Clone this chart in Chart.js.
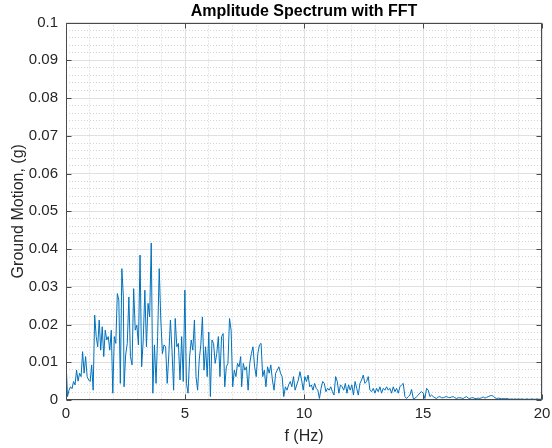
<!DOCTYPE html>
<html>
<head>
<meta charset="utf-8">
<script src="https://cdn.jsdelivr.net/npm/chart.js@4/dist/chart.umd.min.js"></script>
<style>
    html, body { margin:0; padding:0; background:#fff; }
    canvas { display:block; }
</style>
</head>
<body>
<canvas id="chartFFT" width="552" height="448"></canvas>
<script>
/* ==========================================================
   Amplitude spectrum (FFT)
========================================================== */

// amplitude readings (g), one array per frequency band
const amp0 = [0.0106,0.0009,0.0026,0.0035,0.0030,0.0049,0.0040,0.0079,0.0050,0.0071,0.0062,0.0128,0.0071,0.0115,0.0062,0.0053,0.0049,0.0093,0.0026,0.0225,0.0168,0.0141,0.0212,0.0132,0.0194,0.0115,0.0185,0.0159,0.0168,0.0132,0.0185,0.0018,0.0168,0.0150,0.0282,0.0265,0.0044,0.0348,0.0273];
const amp1 = [0.0035,0.0120,0.0150,0.0273,0.0115,0.0093,0.0295,0.0185,0.0198,0.0146,0.0384,0.0088,0.0159,0.0291,0.0141,0.0256,0.0220,0.0416,0.0018,0.0146,0.0044,0.0168,0.0348,0.0212,0.0123,0.0146,0.0141,0.0044,0.0120,0.0212,0.0132,0.0026,0.0216,0.0141,0.0150,0.0053];
const amp2 = [0.0168,0.0049,0.0291,0.0044,0.0018,0.0115,0.0159,0.0132,0.0212,0.0062,0.0026,0.0106,0.0146,0.0220,0.0079,0.0141,0.0062,0.0180,0.0009,0.0159,0.0150,0.0097,0.0123,0.0168,0.0062,0.0168,0.0176,0.0035,0.0088,0.0097,0.0216,0.0185,0.0035,0.0079,0.0062,0.0097,0.0088,0.0115];
const amp3 = [0.0035,0.0097,0.0079,0.0088,0.0026,0.0097,0.0123,0.0141,0.0088,0.0062,0.0123,0.0146,0.0150,0.0062,0.0079,0.0035,0.0088,0.0071,0.0093,0.0053,0.0026,0.0071,0.0079,0.0088,0.0071,0.0062,0.0009,0.0035,0.0026,0.0040,0.0049,0.0035,0.0062,0.0026,0.0040,0.0053,0.0075];
const amp4 = [0.0053,0.0026,0.0062,0.0049,0.0066,0.0035,0.0040,0.0026,0.0044,0.0031,0.0026,0.0004,0.0031,0.0049,0.0044,0.0022,0.0031,0.0026,0.0035,0.0022,0.0013,0.0062,0.0049,0.0018,0.0040,0.0035,0.0026,0.0044,0.0018,0.0040,0.0026,0.0040,0.0013,0.0049,0.0031,0.0013,0.0044];
const amp5 = [0.0053,0.0066,0.0044,0.0049,0.0062,0.0026,0.0022,0.0031,0.0018,0.0031,0.0022,0.0035,0.0018,0.0031,0.0026,0.0035,0.0026,0.0031,0.0018,0.0035,0.0022,0.0031,0.0018,0.0035,0.0040,0.0044,0.0009,0.0004,0.0009,0.0013,0.0028,0.0004,0.0004,0.0009,0.0013];
const amp6 = [0.0019,0.0022,0.0018,0.0004,0.0031,0.0026,0.0009,0.0013,0.0009,0.0006,0.0004,0.0008,0.0009,0.0006,0.0006,0.0008,0.0009,0.0007,0.0006,0.0008,0.0009,0.0006,0.0004,0.0006,0.0006,0.0005,0.0004,0.0007,0.0009,0.0005,0.0004,0.0006,0.0006,0.0004,0.0004,0.0005];
const amp7 = [0.0004,0.0006,0.0008,0.0005,0.0007,0.0009,0.0011,0.0012,0.0010,0.0006,0.0004,0.0005,0.0004,0.0003,0.0004,0.0003,0.0004,0.0003,0.0002,0.0003,0.0002,0.0003,0.0002,0.0003,0.0002,0.0003,0.0002,0.0002,0.0003,0.0002,0.0002,0.0003,0.0002,0.0002,0.0003,0.0002,0.0002,0.0002];

// first / last frequency (Hz) of each band
const bandStart = [0.00, 2.44, 4.86, 7.38, 9.90, 12.42, 14.87, 17.39];
const bandEnd   = [2.41, 4.79, 7.34, 9.83, 12.35, 14.80, 17.32, 20.00];

// labelled ticks
const xMajor = [0, 5, 10, 15, 20];
const yMajor = [0, 0.01, 0.02, 0.03, 0.04, 0.05, 0.06, 0.07, 0.08, 0.09, 0.1];

const bands = [amp0, amp1, amp2, amp3, amp4, amp5, amp6, amp7];

function buildPoints() {

    const pts = [];

    bands.forEach((arr, b) => {
        const f0 = bandStart[b];
        const step = (bandEnd[b] - f0) / (arr.length - 1);
        arr.forEach((v, i) => pts.push({ x: f0 + i * step, y: v }));
    });

    return pts;

}

function isMajorX(v) {
    return xMajor.some(m => Math.abs(m - v) < 1e-6);
}

function isMajorY(v) {
    return yMajor.some(m => Math.abs(m - v) < 1e-6);
}

// MATLAB style box with inward tick marks
const axesBox = {

    id: "axesBox",

    afterDraw(chart) {

        const { ctx, chartArea: a, scales } = chart;
        const l = Math.round(a.left) + 0.5;
        const r = Math.round(a.right) - 0.5;
        const t = Math.round(a.top) + 0.5;
        const b = Math.round(a.bottom) - 0.5;

        ctx.save();
        ctx.strokeStyle = "#4a4a4a";
        ctx.lineWidth = 1;
        ctx.beginPath();
        ctx.rect(l, t, r - l, b - t);

        xMajor.forEach(v => {
            const px = Math.round(scales.x.getPixelForValue(v)) + 0.5;
            ctx.moveTo(px, b); ctx.lineTo(px, b - 5);
            ctx.moveTo(px, t); ctx.lineTo(px, t + 5);
        });

        yMajor.forEach(v => {
            const py = Math.round(scales.y.getPixelForValue(v)) + 0.5;
            ctx.moveTo(l, py); ctx.lineTo(l + 5, py);
            ctx.moveTo(r, py); ctx.lineTo(r - 5, py);
        });

        ctx.stroke();
        ctx.restore();

    }

};

Chart.defaults.font.family = "'Liberation Sans', Arial, Helvetica, sans-serif";
Chart.defaults.color = "#262626";

const ctx = document.getElementById("chartFFT").getContext("2d");

new Chart(ctx, {

    type: "line",

    data: {
        datasets: [{
            data: buildPoints(),
            borderColor: "#0072BD",
            borderWidth: 1,
            pointRadius: 0,
            tension: 0,
            fill: false
        }]
    },

    options: {

        responsive: false,
        animation: false,

        layout: {
            padding: { left: 0, right: 10, top: 0, bottom: 0 }
        },

        plugins: {
            legend: { display: false },
            tooltip: { enabled: false },
            title: {
                display: true,
                text: "Amplitude Spectrum with FFT",
                color: "#000",
                fullSize: false,
                font: { size: 16, weight: "bold" },
                padding: { top: 2, bottom: 1.3 }
            }
        },

        scales: {

            x: {
                type: "linear",
                min: 0,
                max: 20,
                afterFit(scale) {
                    scale.height = 48;
                    scale.paddingLeft = 0;
                    scale.paddingRight = 0;
                },
                ticks: {
                    stepSize: 1,
                    autoSkip: false,
                    maxRotation: 0,
                    padding: 5,
                    font: { size: 15 },
                    callback: v => isMajorX(v) ? String(v) : ""
                },
                grid: {
                    drawTicks: false,
                    color: c => isMajorX(c.tick.value) ? "#e0e0e0" : "#d4d4d4",
                    borderDash: c => isMajorX(c.tick.value) ? [] : [1, 2]
                },
                border: {
                    display: false,
                    dash: c => isMajorX(c.tick.value) ? [] : [1, 2]
                },
                title: {
                    display: true,
                    text: "f (Hz)",
                    font: { size: 16 },
                    padding: { top: 0, bottom: 2 }
                }
            },

            y: {
                min: 0,
                max: 0.1,
                afterFit(scale) {
                    scale.width = 66;
                    scale.paddingTop = 0;
                    scale.paddingBottom = 0;
                },
                ticks: {
                    stepSize: 0.002,
                    autoSkip: false,
                    padding: 8,
                    font: { size: 15 },
                    callback: v => {
                        const r = Math.round(v * 1000);
                        return r % 10 === 0 ? String(r / 1000) : "";
                    }
                },
                grid: {
                    drawTicks: false,
                    color: c => isMajorY(c.tick.value) ? "#e0e0e0" : "#d4d4d4",
                    borderDash: c => isMajorY(c.tick.value) ? [] : [1, 2]
                },
                border: {
                    display: false,
                    dash: c => isMajorY(c.tick.value) ? [] : [1, 2]
                },
                title: {
                    display: true,
                    text: "Ground Motion, (g)",
                    font: { size: 16 },
                    padding: { top: 9, bottom: 0 }
                }
            }

        }

    },

    plugins: [axesBox]

});
</script>
</body>
</html>
